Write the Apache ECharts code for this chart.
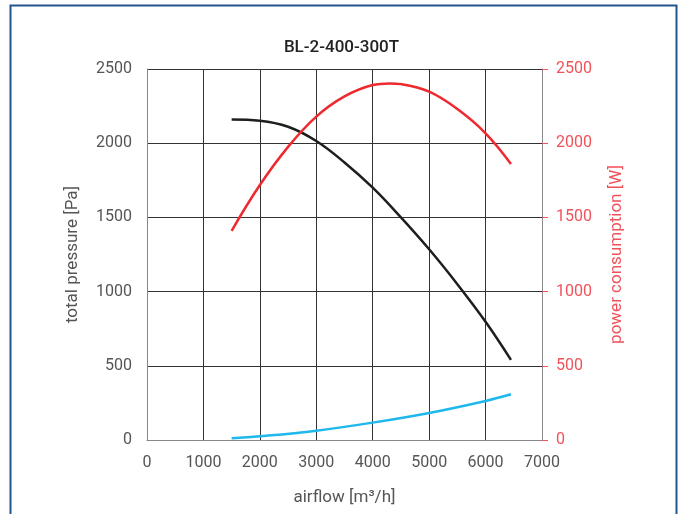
<!DOCTYPE html>
<html>
<head>
<meta charset="utf-8">
<script src="https://cdn.jsdelivr.net/npm/echarts@6/dist/echarts.min.js"></script>
<style>html,body{margin:0;padding:0;background:#fff}#c{width:683px;height:514px}</style>
</head>
<body>
<div id="c"></div>
<script>
const titleText = 'BL-2-400-300T';
const xTicks = [0, 1000, 2000, 3000, 4000, 5000, 6000, 7000];
const leftTicks = [0, 500, 1000, 1500, 2000, 2500];
const rightTicks = [0, 500, 1000, 1500, 2000, 2500];

const pressureX = [1500, 2000, 2500, 3000, 3500, 4000, 4500, 5000, 5500, 6000, 6450];
const pressureY = [2160, 2152, 2111, 2015, 1870, 1700, 1500, 1285, 1050, 797, 540];

const powerX = [1500, 2000, 2500, 3000, 3500, 4000, 4300, 4500, 5000, 5500, 6000, 6450];
const powerY = [1410, 1718, 1975, 2179, 2315, 2392, 2403, 2398, 2347, 2230, 2067, 1860];

const blueX = [1500, 2000, 3000, 4000, 5000, 6000, 6450];
const blueY = [12, 25, 63, 117, 182, 263, 308];

const zip = (xs, ys) => xs.map((x, i) => [x, ys[i]]);
const font = 'Roboto, "Noto Sans", sans-serif';
const grey = '#555';
const red = '#ee2a2f';
const redLabel = '#f0525a';
const plain = v => String(v);

const chart = echarts.init(document.getElementById('c'), null, {renderer: 'canvas'});
chart.setOption({
  animation: false,
  backgroundColor: '#fff',
  title: {
    text: titleText, left: 'center', top: 34,
    textStyle: {fontFamily: font, fontSize: 17, fontWeight: 500, color: '#222'}
  },
  graphic: [{
    type: 'rect', silent: true,
    shape: {x: 10.5, y: 5.5, width: 666, height: 620},
    style: {fill: null, stroke: '#24558f', lineWidth: 2}
  }],
  grid: {left: 147, right: 141, top: 69, bottom: 74},
  xAxis: {
    type: 'value', min: 0, max: 7000, interval: 1000,
    name: 'airflow [m³/h]', nameLocation: 'middle', nameGap: 49,
    nameTextStyle: {fontFamily: font, fontSize: 17, color: grey},
    axisLine: {show: true, lineStyle: {color: '#888', width: 1}},
    axisTick: {show: false},
    axisLabel: {fontFamily: font, fontSize: 16, color: grey, margin: 15, formatter: plain},
    splitLine: {show: true, lineStyle: {color: '#333', width: 1}}
  },
  yAxis: [{
    type: 'value', min: 0, max: 2500, interval: 500, position: 'left',
    name: 'total pressure [Pa]', nameLocation: 'middle', nameGap: 66, nameRotate: 90,
    nameTextStyle: {fontFamily: font, fontSize: 17, color: grey},
    axisLine: {show: true, lineStyle: {color: '#888', width: 1}},
    axisTick: {show: false},
    axisLabel: {fontFamily: font, fontSize: 16, color: grey, margin: 15, formatter: plain},
    splitLine: {show: true, lineStyle: {color: '#333', width: 1}}
  }, {
    type: 'value', min: 0, max: 2500, interval: 500, position: 'right',
    name: 'power consumption [W]', nameLocation: 'middle', nameGap: 66, nameRotate: 90,
    nameTextStyle: {fontFamily: font, fontSize: 17, color: redLabel},
    axisLine: {show: true, lineStyle: {color: '#888', width: 1}},
    axisTick: {show: true, length: 6, inside: false, lineStyle: {color: redLabel, width: 1}},
    axisLabel: {fontFamily: font, fontSize: 16, color: redLabel, margin: 14, formatter: plain},
    splitLine: {show: false}
  }],
  series: [{
    type: 'line', yAxisIndex: 0, data: zip(pressureX, pressureY), smooth: 0.4,
    showSymbol: false, lineStyle: {color: '#1e1e1e', width: 2.5}
  }, {
    type: 'line', yAxisIndex: 1, data: zip(powerX, powerY), smooth: 0.4,
    showSymbol: false, lineStyle: {color: red, width: 2.5}
  }, {
    type: 'line', yAxisIndex: 0, data: zip(blueX, blueY), smooth: 0.4,
    showSymbol: false, lineStyle: {color: '#1fb8ec', width: 2.5}
  }]
});
</script>
</body>
</html>
